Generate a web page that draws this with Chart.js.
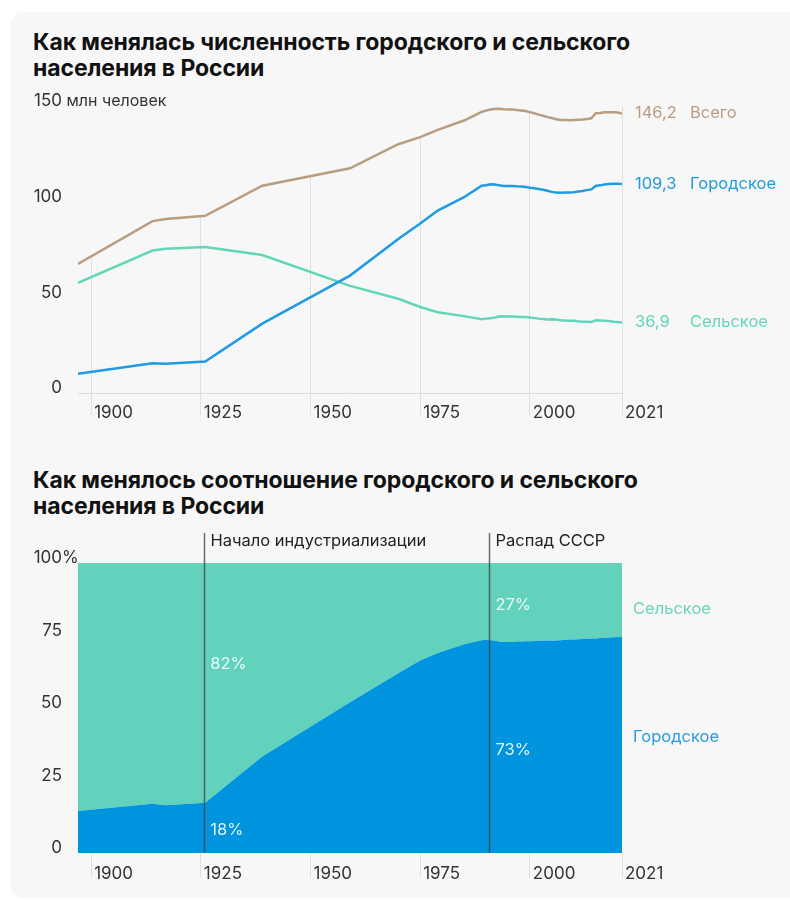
<!DOCTYPE html>
<html lang="ru">
<head>
<meta charset="utf-8">
<script src="https://cdn.jsdelivr.net/npm/chart.js@4.4.1/dist/chart.umd.min.js"></script>
<style>
  body { margin:0; background:#fff; width:790px; height:900px; overflow:hidden; position:relative; font-family: Inter, "Noto Sans", sans-serif; }
  .card { position:absolute; left:10px; top:12px; width:800px; height:886px; background:#f7f7f7; border-radius:14px; }
  h2 { position:absolute; left:33px; margin:0; font-size:23px; line-height:26px; font-weight:700; color:#111; width:740px; letter-spacing:-0.1px; }
  #title1 { top:29px; }
  #title2 { top:467px; }
  canvas { position:absolute; left:0; }
  #popChart { top:80px; }
  #shareChart { top:525px; }
</style>
</head>
<body>
<div class="card"></div>
<h2 id="title1">Как менялась численность городского и сельского<br>населения в России</h2>
<h2 id="title2">Как менялось соотношение городского и сельского<br>населения в России</h2>
<canvas id="popChart" width="790" height="350"></canvas>
<canvas id="shareChart" width="790" height="365"></canvas>
<script>
// Years of the census / estimate points
const years = [1897, 1914, 1917, 1926, 1939, 1959, 1970, 1975, 1979, 1985,
  1989, 1990, 1991, 1992, 1993, 1994, 1995, 1996, 1997, 1998, 1999,
  2000, 2001, 2002, 2003, 2004, 2005, 2006, 2007, 2008, 2009, 2010,
  2011, 2012, 2013, 2014, 2015, 2016, 2017, 2018, 2019, 2020, 2021];

// Population, mln people
const totalPop = [67.5, 89.9, 91.0, 92.7, 108.4, 117.5, 130.1, 133.8, 137.6, 142.5,
  147.0, 147.7, 148.3, 148.5, 148.6, 148.4, 148.3, 148.3, 148.0, 147.8, 147.5,
  146.9, 146.3, 145.6, 145.0, 144.3, 143.8, 143.2, 142.8, 142.8, 142.7, 142.8,
  142.9, 143.0, 143.3, 143.7, 146.3, 146.5, 146.8, 146.9, 146.8, 146.7, 146.2];
const urbanPop = [10.0, 15.6, 15.3, 16.5, 36.3, 61.4, 80.6, 88.6, 95.4, 102.4,
  108.4, 108.7, 109.2, 109.0, 108.6, 108.3, 108.3, 108.3, 108.1, 108.0, 107.8,
  107.4, 107.1, 106.7, 106.3, 105.8, 105.2, 104.8, 104.7, 104.9, 104.9, 105.0,
  105.4, 105.7, 106.1, 106.5, 108.3, 108.6, 109.0, 109.3, 109.5, 109.5, 109.3];
const ruralPop = [57.6, 74.5, 75.5, 76.3, 72.2, 56.0, 49.3, 45.0, 42.2, 40.2,
  38.6, 38.9, 39.1, 39.5, 40.0, 40.1, 40.0, 40.0, 39.9, 39.8, 39.7,
  39.5, 39.2, 38.9, 38.7, 38.5, 38.6, 38.4, 38.1, 37.9, 37.8, 37.8,
  37.5, 37.3, 37.2, 37.1, 38.0, 37.9, 37.8, 37.6, 37.3, 37.1, 36.9];

// Share of population, %
const urbanShare = [14.5, 17.0, 16.5, 17.3, 33.3, 52.0, 62.0, 66.4, 69.0, 72.0,
  73.4, 73.5, 73.4, 73.2, 72.9, 72.8, 72.8, 72.8, 72.9, 72.9, 73.0,
  73.0, 73.1, 73.2, 73.2, 73.3, 73.2, 73.3, 73.4, 73.5, 73.6, 73.6,
  73.7, 73.8, 73.9, 74.0, 74.0, 74.1, 74.2, 74.3, 74.4, 74.5, 74.5];
const ruralShare = [85.5, 83.0, 83.5, 82.7, 66.7, 48.0, 38.0, 33.6, 31.0, 28.0,
  26.6, 26.5, 26.6, 26.8, 27.1, 27.2, 27.2, 27.2, 27.1, 27.1, 27.0,
  27.0, 26.9, 26.8, 26.8, 26.7, 26.8, 26.7, 26.6, 26.5, 26.4, 26.4,
  26.3, 26.2, 26.1, 26.0, 26.0, 25.9, 25.8, 25.7, 25.6, 25.5, 25.5];

const xTicks = [1900, 1925, 1950, 1975, 2000, 2021];
const popTicks = [0, 50, 100, 150];
const shareTicks = [0, 25, 50, 75, 100];

const eventYears = [1926, 1991];
const eventLabels = ["Начало индустриализации", "Распад СССР"];
// share callouts: [year, y position value, text]
const shareNotes = [[1926, 65, "82%"], [1926, 8, "18%"], [1991, 85.5, "27%"], [1991, 35.5, "73%"]];

const BG = "#f7f7f7";
const C_TOTAL = "#b89d80";
const C_URBAN = "#1e9be2";
const C_RURAL = "#62d6b8";
const FONT = "16.5px Inter, 'Noto Sans', sans-serif";

Chart.defaults.font.family = "Inter, 'Noto Sans', sans-serif";
Chart.defaults.font.size = 16.5;
Chart.defaults.color = "#333";

const toXY = arr => arr.map((v, i) => ({ x: years[i], y: v }));

function xAxis(tickLen, pad) {
  return {
    type: "linear",
    min: years[0],
    max: years[years.length - 1],
    afterBuildTicks: s => { s.ticks = xTicks.map(v => ({ value: v })); },
    afterFit: s => { s.height = 37; },
    ticks: { align: "start", labelOffset: 3, padding: pad, callback: v => String(v), color: "#333", font: { size: 17 } },
    grid: { color: "#e0e0e0", tickLength: tickLen, drawOnChartArea: true },
    border: { display: false }
  };
}

function yAxis(max, ticks) {
  return {
    min: 0,
    max: max,
    afterBuildTicks: s => { s.ticks = ticks.map(v => ({ value: v })); },
    afterFit: s => { s.width = 78; },
    ticks: { padding: 16, labelOffset: -5, color: "#333", font: { size: 17 } },
    grid: { display: false, drawTicks: false },
    border: { display: false }
  };
}

// suffix after the top tick label ("150 млн человек", "100%")
const axisSuffix = {
  id: "axisSuffix",
  afterDraw(chart, args, opts) {
    const y = chart.scales.y;
    const ctx = chart.ctx;
    ctx.save();
    ctx.font = opts.font || FONT;
    ctx.fillStyle = "#333";
    ctx.textAlign = "left";
    ctx.textBaseline = "middle";
    ctx.fillText(opts.text, y.right - 16, y.getPixelForValue(y.max) - 5);
    ctx.restore();
  }
};

const endLabels = {
  id: "endLabels",
  afterDatasetsDraw(chart) {
    const ctx = chart.ctx;
    const right = chart.chartArea.right;
    ctx.save();
    ctx.font = FONT;
    ctx.textAlign = "left";
    ctx.textBaseline = "middle";
    chart.data.datasets.forEach((ds, i) => {
      const pts = chart.getDatasetMeta(i).data;
      const p = pts[pts.length - 1];
      const v = ds.data[ds.data.length - 1].y;
      ctx.fillStyle = ds.borderColor;
      ctx.fillText(v.toFixed(1).replace(".", ","), right + 13, p.y);
      ctx.fillText(ds.label, right + 68, p.y);
    });
    ctx.restore();
  }
};

new Chart(document.getElementById("popChart"), {
  type: "line",
  data: {
    datasets: [
      { label: "Всего", data: toXY(totalPop), borderColor: C_TOTAL, fill: "end", backgroundColor: BG },
      { label: "Городское", data: toXY(urbanPop), borderColor: C_URBAN, fill: false },
      { label: "Сельское", data: toXY(ruralPop), borderColor: C_RURAL, fill: false }
    ]
  },
  options: {
    responsive: false,
    animation: false,
    devicePixelRatio: 1,
    layout: { padding: { top: 23, right: 168, left: 0, bottom: 0 } },
    elements: { point: { radius: 0 }, line: { borderWidth: 2.5, tension: 0 } },
    plugins: { legend: { display: false }, tooltip: { enabled: false }, axisSuffix: { text: " млн человек", font: "16px Inter, 'Noto Sans', sans-serif" } },
    scales: {
      x: Object.assign(xAxis(22, -12), { border: { display: true, color: "#dcdcdc" } }),
      y: yAxis(150, popTicks)
    }
  },
  plugins: [axisSuffix, endLabels]
});

const shareNotesPlugin = {
  id: "shareNotes",
  afterDatasetsDraw(chart) {
    const ctx = chart.ctx;
    const x = chart.scales.x, y = chart.scales.y;
    const area = chart.chartArea;
    ctx.save();
    ctx.font = FONT;
    ctx.textBaseline = "middle";
    ctx.textAlign = "left";
    eventYears.forEach((yr, i) => {
      const px = Math.round(x.getPixelForValue(yr)) - 0.5;
      ctx.strokeStyle = "rgba(60,60,60,0.75)";
      ctx.lineWidth = 1.5;
      ctx.beginPath();
      ctx.moveTo(px, area.top - 30);
      ctx.lineTo(px, area.bottom);
      ctx.stroke();
      ctx.fillStyle = "#222";
      ctx.fillText(eventLabels[i], px + 6, area.top - 22);
    });
    ctx.fillStyle = "rgba(255,255,255,0.88)";
    shareNotes.forEach(n => {
      ctx.fillText(n[2], x.getPixelForValue(n[0]) + 5, y.getPixelForValue(n[1]));
    });
    ctx.fillStyle = "#6dd5bf";
    ctx.fillText("Сельское", area.right + 11, y.getPixelForValue(84));
    ctx.fillStyle = "#2a9be0";
    ctx.fillText("Городское", area.right + 11, y.getPixelForValue(40));
    ctx.restore();
  }
};

new Chart(document.getElementById("shareChart"), {
  type: "line",
  data: {
    datasets: [
      { label: "Городское", data: toXY(urbanShare), borderWidth: 0, fill: "origin", backgroundColor: "#0094de" },
      { label: "Сельское", data: toXY(ruralShare), borderWidth: 0, fill: "-1", backgroundColor: "#63d2bc" }
    ]
  },
  options: {
    responsive: false,
    animation: false,
    devicePixelRatio: 1,
    layout: { padding: { top: 38, right: 168, left: 0, bottom: 0 } },
    elements: { point: { radius: 0 }, line: { tension: 0 } },
    plugins: { legend: { display: false }, tooltip: { enabled: false }, axisSuffix: { text: "%", font: "17px Inter, 'Noto Sans', sans-serif" } },
    scales: {
      x: Object.assign(xAxis(25, -14), { grid: { color: "#e0e0e0", tickLength: 25, drawOnChartArea: false } }),
      y: Object.assign(yAxis(100, shareTicks), { stacked: true })
    }
  },
  plugins: [axisSuffix, shareNotesPlugin]
});
</script>
</body>
</html>
